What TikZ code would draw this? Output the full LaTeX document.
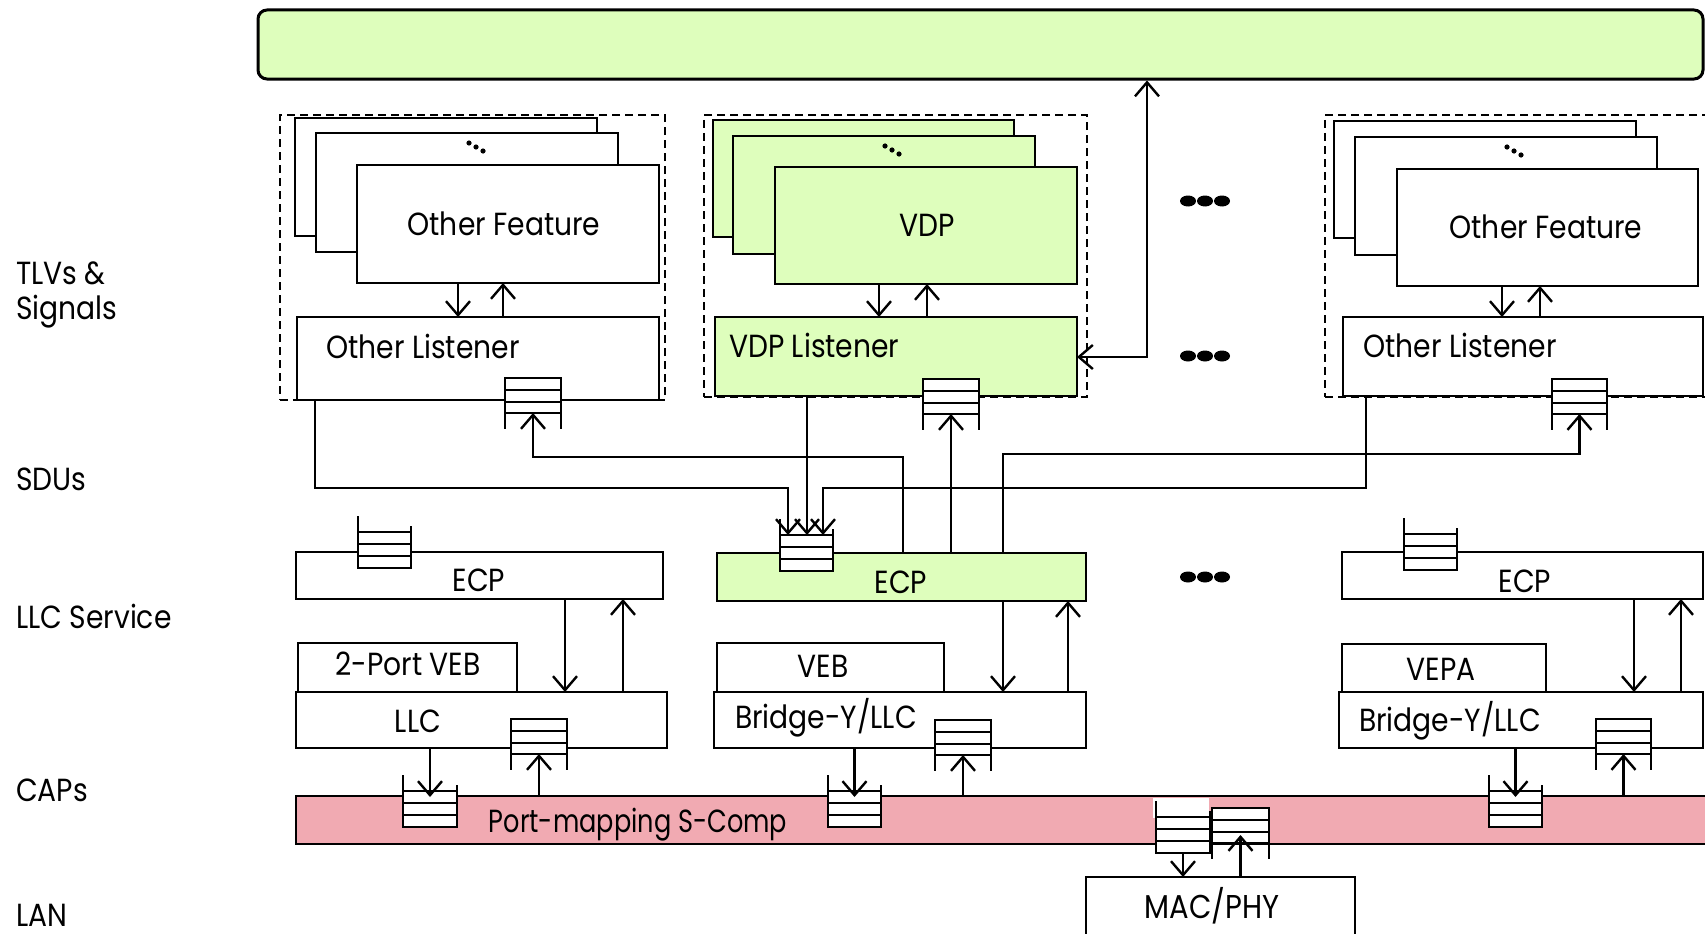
\documentclass[tikz,border=0pt]{standalone}
\usepackage{fontspec}
\setmainfont{Poppins}[FakeStretch=0.88]
\newfontfamily\narrowfont{Poppins}[FakeStretch=0.8]
\usetikzlibrary{arrows.meta,fit}
\definecolor{lgreen}{RGB}{222,254,188}
\definecolor{lpink}{RGB}{241,170,178}
\newcommand\qA[4]{%
  \node[bx, fit={(#2,#4) (#3,#4+35)}] (#1) {};
  \draw[ln] (#2,#4+12) -- (#3,#4+12) (#2,#4+24) -- (#3,#4+24);
  \draw[ln] (#1.south west) -- ++(0,16) (#1.south east) -- ++(0,16);
}
\newcommand\qB[4]{%
  \node[bx, fit={(#2,#4-36) (#3,#4)}] (#1) {};
  \draw[ln] (#2,#4-24) -- (#3,#4-24) (#2,#4-12) -- (#3,#4-12);
  \draw[ln] (#1.north west) -- ++(0,-16) (#1.north east) -- ++(0,-6);
}
\begin{document}
\begin{tikzpicture}[x=1pt,y=-1pt,
  bx/.style={draw,line width=2.6pt,inner sep=0pt,outer sep=0pt,fill=white},
  gbx/.style={bx,fill=lgreen},
  dbox/.style={draw,line width=2.4pt,dash pattern=on 8pt off 5pt,inner sep=0pt},
  ln/.style={line width=2.6pt},
  arr/.style={line width=2.4pt,-{Straight Barb[length=14pt,width=24pt]}},
  arrtwo/.style={line width=2.4pt,{Straight Barb[length=14pt,width=24pt]}-{Straight Barb[length=14pt,width=24pt]}},
  txt/.style={font=\fontsize{32}{36}\selectfont,inner sep=0pt,anchor=base},
  ltxt/.style={txt,anchor=base west}
]
\useasboundingbox (0,0) rectangle (1705,934);
\clip (0,0) rectangle (1705,934);

% top bar
\node[draw,line width=3pt,fill=lgreen,rounded corners=9pt,inner sep=0pt,fit={(258,10) (1703,79)}] (bar) {};

% dashed groups
\node[dbox,fit={(280,115) (665,400)}] (d1) {};
\node[dbox,fit={(704,115) (1087,397)}] (d2) {};
\node[dbox,fit={(1325,115) (1760,397)}] (d3) {};

% column 1
\node[bx,fit={(295,118) (597,236)}] (c1a) {};
\node[bx,fit={(316,133) (618,252)}] (c1b) {};
\node[bx,fit={(357,165) (659,283)}] (f1) {};
\node[bx,fit={(297,317) (659,400)}] (l1) {};
% column 2
\node[gbx,fit={(713,120) (1014,237)}] (c2a) {};
\node[gbx,fit={(733,136) (1035,254)}] (c2b) {};
\node[gbx,fit={(775,167) (1077,284)}] (f2) {};
\node[gbx,fit={(715,317) (1077,396)}] (l2) {};
% column 3
\node[bx,fit={(1334,121) (1636,238)}] (c3a) {};
\node[bx,fit={(1355,137) (1657,255)}] (c3b) {};
\node[bx,fit={(1397,169) (1698,286)}] (f3) {};
\node[bx,fit={(1343,317) (1703,396)}] (l3) {};

% small tilted dots in cards
\foreach \x/\y in {469/143,476/147,483/151,885/146,892/150,899/154,1507/147,1514/151,1521/155}
  \fill (\x,\y) circle[radius=2.6pt];

% listener queues
\qA{q1}{505}{561}{378}
\qA{q2}{923}{979}{379}
\qA{q3}{1552}{1607}{379}

% feature <-> listener
\draw[arr] (f1.south -| 458,0) -- (l1.north -| 458,0);
\draw[arr] (l1.north -| 503,0) -- (f1.south -| 503,0);
\draw[arr] (f2.south -| 879,0) -- (l2.north -| 879,0);
\draw[arr] (l2.north -| 927,0) -- (f2.south -| 927,0);
\draw[arr] (f3.south -| 1502,0) -- (l3.north -| 1502,0);
\draw[arr] (l3.north -| 1540,0) -- (f3.south -| 1540,0);

% ECP row
\node[bx,fit={(296,552) (663,599)}] (ecp1) {};
\node[gbx,fit={(717,553) (1086,601)}] (ecp2) {};
\node[bx,fit={(1342,552) (1703,599)}] (ecp3) {};
% VEB row
\node[bx,fit={(298,643) (517,692)}] (veb1) {};
\node[bx,fit={(717,643) (944,692)}] (veb2) {};
\node[bx,fit={(1342,644) (1546,692)}] (veb3) {};
% LLC row
\node[bx,fit={(296,692) (667,748)}] (llc1) {};
\node[bx,fit={(714,692) (1086,748)}] (llc2) {};
\node[bx,fit={(1339,692) (1703,748)}] (llc3) {};
% S-comp and MAC
\node[draw,line width=2.6pt,fill=lpink,inner sep=0pt,fit={(296,796) (1720,844)}] (sc) {};
\node[bx,fit={(1086,877) (1355,950)}] (mac) {};

% queues
\qB{eq1}{358}{411}{568}
\qB{eq}{780}{833}{571}
\qB{eq3}{1404}{1457}{570}
\qA{lq1}{511}{567}{719}
\qA{lq2}{935}{991}{720}
\qA{lq3}{1596}{1651}{719}
\qB{cq1}{403}{457}{827}
\qB{cq2}{828}{881}{827}
\qB{cq3}{1489}{1542}{827}
\fill[white] (1153,798) rectangle (1209,818);
\qB{mq1}{1156}{1210}{853}
\qA{mq2}{1212}{1269}{808}

% SDU connectors
\draw[arr] (l1.south -| 315,0) -- (315,488) -| (eq.north -| 788,0);
\draw[arr] (l2.south -| 807,0) -- (eq.north -| 807,0);
\draw[arr] (l3.south -| 1366,0) -- (1366,488) -| (eq.north -| 823,0);
\draw[arr] (ecp2.north -| 903,0) -- (903,457) -| (q1.south);
\draw[arr] (ecp2.north -| q2.south) -- (q2.south);
\draw[arr] (ecp2.north -| 1003,0) -- (1003,454) -| (q3.south);
\draw[arrtwo] (l2.east |- 0,357) -| (bar.south -| 1147,0);

% ECP <-> LLC
\draw[arr] (ecp1.south -| 565,0) -- (llc1.north -| 565,0);
\draw[arr] (llc1.north -| 623,0) -- (ecp1.south -| 623,0);
\draw[arr] (ecp2.south -| 1003,0) -- (llc2.north -| 1003,0);
\draw[arr] (llc2.north -| 1068,0) -- (ecp2.south -| 1068,0);
\draw[arr] (ecp3.south -| 1634,0) -- (llc3.north -| 1634,0);
\draw[arr] (llc3.north -| 1681,0) -- (ecp3.south -| 1681,0);

% LLC <-> S-comp
\draw[arr] (llc1.south -| cq1.north) -- ([yshift=-6pt]cq1.north);
\draw[arr] (sc.north -| lq1.south) -- (lq1.south);
\draw[arr] (llc2.south -| cq2.north) -- ([yshift=-6pt]cq2.north);
\draw[arr] (sc.north -| lq2.south) -- (lq2.south);
\draw[arr] (llc3.south -| cq3.north) -- ([yshift=-6pt]cq3.north);
\draw[arr] (sc.north -| lq3.south) -- (lq3.south);

% S-comp <-> MAC
\draw[arr] (mq1.south) -- (mac.north -| mq1.south);
\draw[arr] (mac.north -| mq2.south) -- ([yshift=8pt]mq2.south);

% texts
\node[txt] (tf1) at (504,235) {Other Feature};
\node[txt] (tf2) at (927,236) {VDP};
\node[txt] (tf3) at (1546,238) {Other Feature};
\node[ltxt] (tl1) at (326,358) {Other Listener};
\node[ltxt] (tl2) at (729,357) {VDP Listener};
\node[ltxt] (tl3) at (1363,357) {Other Listener};
\node[txt] (te1) at (479,591) {ECP};
\node[txt] (te2) at (901,593) {ECP};
\node[txt] (te3) at (1525,592) {ECP};
\node[txt] (tv1) at (408,675) {2-Port VEB};
\node[txt] (tv2) at (823,677) {VEB};
\node[txt] (tv3) at (1441,680) {VEPA};
\node[txt] (tll1) at (418,732) {LLC};
\node[ltxt] (tll2) at (735,728) {Bridge-Y/LLC};
\node[ltxt] (tll3) at (1359,731) {Bridge-Y/LLC};
\node[txt,font=\fontsize{32}{36}\narrowfont] (tsc) at (638,832) {Port-mapping S-Comp};
\node[txt,font=\fontsize{33}{36}\selectfont] (tmac) at (1212,918) {MAC/PHY};

% big dots
\foreach \y in {201,356,577}
  \foreach \x in {1188,1205,1222}
    \fill (\x,\y) ellipse[x radius=8pt,y radius=5.5pt];

% layer labels
\node[ltxt] (lab1) at (16,284) {TLVs \&};
\node[ltxt] (lab1b) at (16,319) {Signals};
\node[ltxt] (lab2) at (16,490) {SDUs};
\node[ltxt] (lab3) at (16,628) {LLC Service};
\node[ltxt] (lab4) at (16,801) {CAPs};
\node[ltxt] (lab5) at (16,926) {LAN};
\end{tikzpicture}
\end{document}
